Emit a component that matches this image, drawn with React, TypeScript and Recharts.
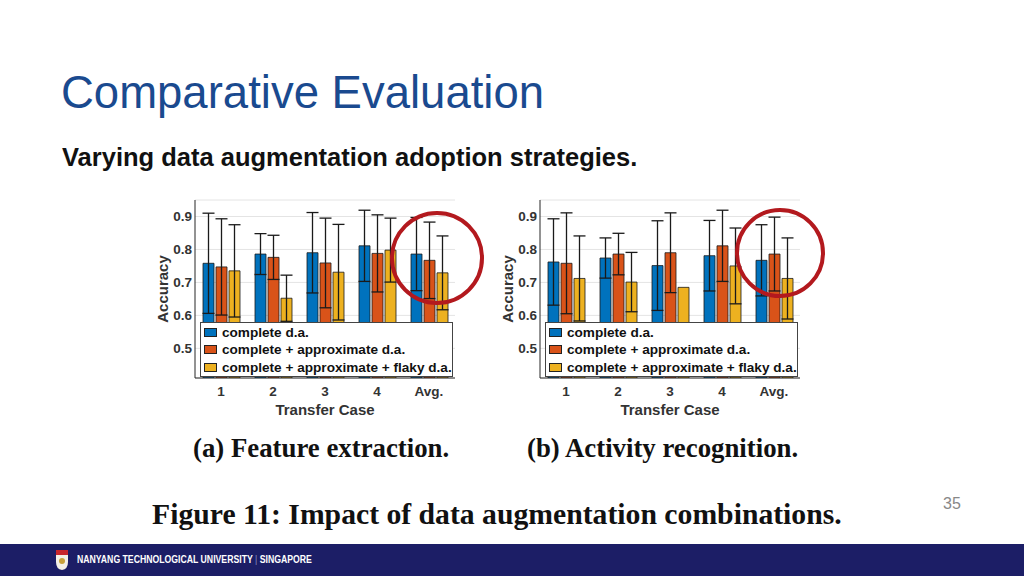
import { BarChart, Bar, XAxis, YAxis, CartesianGrid, ErrorBar } from "recharts"

const cases = ["1", "2", "3", "4", "Avg."]
const seriesNames = [
  "complete d.a.",
  "complete + approximate d.a.",
  "complete + approximate + flaky d.a.",
]
const seriesColors = ["#0072BD", "#D95319", "#EDB120"]
const yTicks = [0.5, 0.6, 0.7, 0.8, 0.9]

// (a) Feature extraction
const feCompleteMean = [0.758, 0.786, 0.79, 0.811, 0.786]
const feCompleteErr = [0.152, 0.062, 0.122, 0.108, 0.111]
const feApproxMean = [0.747, 0.776, 0.759, 0.788, 0.767]
const feApproxErr = [0.146, 0.067, 0.136, 0.117, 0.116]
const feFlakyMean = [0.735, 0.652, 0.731, 0.798, 0.729]
const feFlakyErr = [0.14, 0.07, 0.145, 0.097, 0.112]

// (b) Activity recognition
const arCompleteMean = [0.762, 0.774, 0.751, 0.781, 0.767]
const arCompleteErr = [0.131, 0.061, 0.136, 0.107, 0.108]
const arApproxMean = [0.758, 0.786, 0.79, 0.811, 0.786]
const arApproxErr = [0.153, 0.063, 0.121, 0.108, 0.112]
const arFlakyMean = [0.712, 0.701, 0.685, 0.75, 0.712]
const arFlakyErr = [0.129, 0.09, null, 0.115, 0.123]

function buildRows(means: number[][], errs: (number | null)[][]) {
  return cases.map((c, i) => ({
    case: c,
    m0: means[0][i],
    e0: errs[0][i],
    m1: means[1][i],
    e1: errs[1][i],
    m2: means[2][i],
    e2: errs[2][i],
  }))
}

const feRows = buildRows(
  [feCompleteMean, feApproxMean, feFlakyMean],
  [feCompleteErr, feApproxErr, feFlakyErr]
)
const arRows = buildRows(
  [arCompleteMean, arApproxMean, arFlakyMean],
  [arCompleteErr, arApproxErr, arFlakyErr]
)

const font = "'Liberation Sans', Arial, sans-serif"
const serif = "'Liberation Serif', 'Times New Roman', serif"
const tickStyle = { fontSize: 13.5, fontWeight: 700, fill: "#333", fontFamily: font }
const axisLabelStyle = { fontSize: 15, fontWeight: 700, fill: "#333", fontFamily: font }

function AccuracyChart({ rows, left }: { rows: any[]; left: number }) {
  return (
    <div style={{ position: "absolute", left, top: 195, width: 320, height: 225 }}>
      <BarChart
        width={320}
        height={225}
        data={rows}
        margin={{ top: 5, right: 15, bottom: 0, left: 0 }}
        barSize={11}
        barGap={2}
      >
        <CartesianGrid vertical={false} stroke="#e4e4e4" />
        <XAxis
          dataKey="case"
          height={42}
          tickLine={false}
          tickSize={0}
          tickMargin={8}
          stroke="#262626"
          tick={tickStyle}
          label={{ value: "Transfer Case", position: "insideBottom", offset: 5, style: axisLabelStyle }}
        />
        <XAxis
          xAxisId="top"
          orientation="top"
          dataKey="case"
          height={0}
          tick={false}
          tickLine={false}
          stroke="#262626"
        />
        <YAxis
          width={45}
          domain={[0.41, 0.95]}
          allowDataOverflow
          ticks={yTicks}
          tickFormatter={(v: number) => v.toFixed(1)}
          tickLine={false}
          tickSize={0}
          tickMargin={3}
          stroke="#262626"
          tick={tickStyle}
          label={{
            value: "Accuracy",
            angle: -90,
            position: "insideLeft",
            offset: 13,
            style: { ...axisLabelStyle, textAnchor: "middle" },
          }}
        />
        <YAxis
          yAxisId="right"
          orientation="right"
          width={0}
          domain={[0.41, 0.95]}
          tick={false}
          tickLine={false}
          stroke="#262626"
        />
        {[0, 1, 2].map((k) => (
          <Bar
            key={k}
            dataKey={"m" + k}
            name={seriesNames[k]}
            fill={seriesColors[k]}
            stroke="#1a1a1a"
            strokeWidth={0.8}
            isAnimationActive={false}
          >
            <ErrorBar dataKey={"e" + k} width={6} stroke="#1a1a1a" strokeWidth={1.3} />
          </Bar>
        ))}
      </BarChart>
      <div
        style={{
          position: "absolute",
          left: 50,
          top: 127,
          width: 251,
          height: 52,
          background: "#fff",
          border: "1px solid #444",
          fontFamily: font,
          fontWeight: 700,
          fontSize: 13.6,
          color: "#111",
          paddingTop: 1,
          boxSizing: "content-box",
        }}
      >
        {seriesNames.map((n, k) => (
          <div key={n} style={{ display: "flex", alignItems: "center", height: 17.3, whiteSpace: "nowrap" }}>
            <span
              style={{
                display: "inline-block",
                width: 11,
                height: 7,
                margin: "0 5px 0 3px",
                background: seriesColors[k],
                border: "1px solid #222",
              }}
            />
            {n}
          </div>
        ))}
      </div>
    </div>
  )
}

export default function App() {
  return (
    <div
      style={{
        position: "absolute",
        left: 0,
        top: 0,
        width: 1024,
        height: 576,
        background: "#fff",
        overflow: "hidden",
        fontFamily: font,
      }}
    >
      <div style={{ position: "absolute", left: 61, top: 66, fontSize: 45.5, color: "#1a4a8f", lineHeight: 1.2 }}>
        Comparative Evaluation
      </div>
      <div style={{ position: "absolute", left: 62, top: 142, fontSize: 25.5, fontWeight: 700, color: "#111", lineHeight: 1.2 }}>
        Varying data augmentation adoption strategies.
      </div>

      <AccuracyChart rows={feRows} left={150} />
      <AccuracyChart rows={arRows} left={495} />

      <div style={{ position: "absolute", left: 193, top: 432, fontFamily: serif, fontWeight: 700, fontSize: 26.8, color: "#111", lineHeight: 1.2 }}>
        (a) Feature extraction.
      </div>
      <div style={{ position: "absolute", left: 527, top: 432, fontFamily: serif, fontWeight: 700, fontSize: 26.8, color: "#111", lineHeight: 1.2 }}>
        (b) Activity recognition.
      </div>
      <div
        style={{
          position: "absolute",
          left: 152,
          top: 497,
          fontFamily: serif,
          fontWeight: 700,
          fontSize: 29.7,
          color: "#111",
          lineHeight: 1.2,
          whiteSpace: "nowrap",
        }}
      >
        Figure 11: Impact of data augmentation combinations.
      </div>
      <div style={{ position: "absolute", left: 943, top: 495, fontSize: 16, color: "#888" }}>35</div>

      <svg width={1024} height={576} style={{ position: "absolute", left: 0, top: 0, pointerEvents: "none" }}>
        <circle cx={437} cy={258} r={45} fill="none" stroke="#b3191e" strokeWidth={4} />
        <circle cx={780} cy={253} r={43} fill="none" stroke="#b3191e" strokeWidth={4} />
      </svg>

      <div style={{ position: "absolute", left: 0, top: 544, width: 1024, height: 32, background: "#1c1e66" }}>
        <svg width={14} height={22} style={{ position: "absolute", left: 55, top: 5 }}>
          <path d="M1 1 H13 V13 Q13 20 7 21 Q1 20 1 13 Z" fill="#f4f1e6" />
          <rect x={1} y={1} width={12} height={5} fill="#c8262c" />
          <circle cx={7} cy={12} r={3} fill="#c9a23a" />
        </svg>
        <div
          style={{
            position: "absolute",
            left: 77,
            top: 9,
            fontSize: 11,
            fontWeight: 700,
            color: "#fff",
            whiteSpace: "nowrap",
            transform: "scaleX(0.79)",
            transformOrigin: "left center",
          }}
        >
          NANYANG TECHNOLOGICAL UNIVERSITY <span style={{ color: "#8c8fc0", fontWeight: 400 }}>|</span> SINGAPORE
        </div>
      </div>
    </div>
  )
}
